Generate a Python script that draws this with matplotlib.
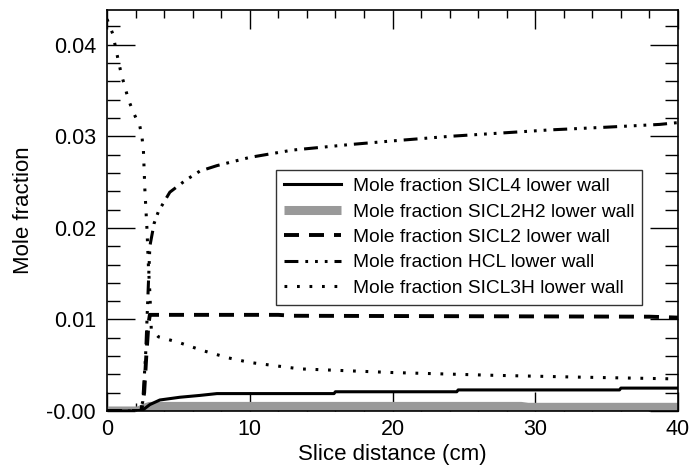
import matplotlib
matplotlib.use('Agg')
import matplotlib.pyplot as plt
from matplotlib.ticker import MultipleLocator, FuncFormatter

plt.rcParams['font.family'] = ['Liberation Sans', 'DejaVu Sans']
plt.rcParams['lines.scale_dashes'] = False

# --- data ---
x_sicl4 = [0, 2.1, 2.5, 3.0, 3.7, 5.1, 6.5, 7.7, 10, 15.9, 16.0, 24.5, 24.6, 35.9, 36.0, 40]
y_sicl4 = [0, 0, 0.0001, 0.0007, 0.0012, 0.0015, 0.0017, 0.0019, 0.0019, 0.0019, 0.0021,
           0.0021, 0.0023, 0.0023, 0.0025, 0.0025]

x_sicl2h2 = [0, 2.2, 2.6, 3.0, 29.0, 29.5, 40]
y_sicl2h2 = [0, 0, 0.0003, 0.0005, 0.0005, 0.0004, 0.0004]

x_sicl2 = [0, 2.4, 2.6, 2.75, 2.9, 3.0, 12, 13, 38, 40]
y_sicl2 = [0, 0, 0.002, 0.006, 0.0095, 0.0105, 0.0105, 0.0104, 0.0103, 0.0102]

x_hcl = [0, 2.3, 2.5, 2.7, 2.85, 3.0, 3.3, 3.6, 4.4, 5.5, 6.5, 7.7, 10, 13, 17, 20, 24,
         28, 31, 35, 38.7, 40]
y_hcl = [0, 0, 0.001, 0.006, 0.012, 0.018, 0.0205, 0.0218, 0.0239, 0.0252, 0.0262, 0.0268,
         0.0277, 0.0285, 0.0291, 0.0295, 0.0300, 0.0304, 0.0307, 0.0310, 0.0313, 0.0315]

x_sicl3h = [0, 0.4, 0.8, 1.0, 1.5, 1.85, 2.3, 2.45, 2.55, 2.65, 2.8, 2.9, 3.0, 3.1, 3.6,
            5.0, 6.7, 8.5, 10, 13.5, 20, 27, 33, 40]
y_sicl3h = [0.0428, 0.0412, 0.0382, 0.0368, 0.0340, 0.0326, 0.0311, 0.0299, 0.0284, 0.0242,
            0.0198, 0.0158, 0.0129, 0.0089, 0.0081, 0.0075, 0.0066, 0.0058, 0.0053, 0.0046,
            0.0042, 0.0039, 0.0037, 0.0035]

labels = ['Mole fraction SICL4 lower wall', 'Mole fraction SICL2H2 lower wall',
          'Mole fraction SICL2 lower wall', 'Mole fraction HCL lower wall',
          'Mole fraction SICL3H lower wall']

fig = plt.figure(figsize=(6.91, 4.69), dpi=100)
ax = fig.add_axes([0.1549, 0.1237, 0.8263, 0.855])

ax.plot(x_sicl2h2, y_sicl2h2, color='#999999', lw=6.5, solid_capstyle='butt',
        label=labels[1], zorder=2)
ax.plot(x_sicl4, y_sicl4, color='black', lw=2.2, label=labels[0], zorder=3)
ax.plot(x_sicl2, y_sicl2, color='black', lw=2.8, dashes=(10.8, 7.2), label=labels[2], zorder=3)
ax.plot(x_hcl, y_hcl, color='black', lw=2.2, dashes=(10, 5, 2, 5, 2, 5, 2, 5),
        label=labels[3], zorder=3)
ax.plot(x_sicl3h, y_sicl3h, color='black', lw=2.2, dashes=(2, 7), label=labels[4], zorder=3)

ax.set_xlim(0, 40)
ax.set_ylim(0, 0.0438)
ax.xaxis.set_major_locator(MultipleLocator(10))
ax.xaxis.set_minor_locator(MultipleLocator(2))
ax.yaxis.set_major_locator(MultipleLocator(0.01))
ax.yaxis.set_minor_locator(MultipleLocator(0.002))
ax.yaxis.set_major_formatter(FuncFormatter(lambda v, p: '-0.00' if abs(v) < 1e-9 else f'{v:.2f}'))

ax.tick_params(axis='y', which='major', direction='in', length=20, width=1,
               left=True, right=True, labelsize=15.5, pad=8)
ax.tick_params(axis='y', which='minor', direction='in', length=9.4, width=1,
               left=True, right=True)
ax.tick_params(axis='x', which='major', direction='in', length=14, width=1,
               bottom=True, top=True, labelsize=15.5, pad=6)
ax.tick_params(axis='x', which='minor', direction='in', length=6, width=1,
               bottom=True, top=True)
for s in ax.spines.values():
    s.set_linewidth(1.2)

ax.set_xlabel('Slice distance (cm)', fontsize=16, labelpad=3)
ax.set_ylabel('Mole fraction', fontsize=16, labelpad=9)

handles, labs = ax.get_legend_handles_labels()
order = [labs.index(l) for l in labels]
leg = ax.legend([handles[i] for i in order], [labs[i] for i in order],
                loc='upper left', bbox_to_anchor=(0.296, 0.601), borderaxespad=0,
                fontsize=13.8, frameon=True, fancybox=False, edgecolor='black',
                handlelength=3.0, labelspacing=0.42, borderpad=0.4, handletextpad=0.6)
leg.get_frame().set_linewidth(1.0)

fig.savefig('out.png', dpi=100)
